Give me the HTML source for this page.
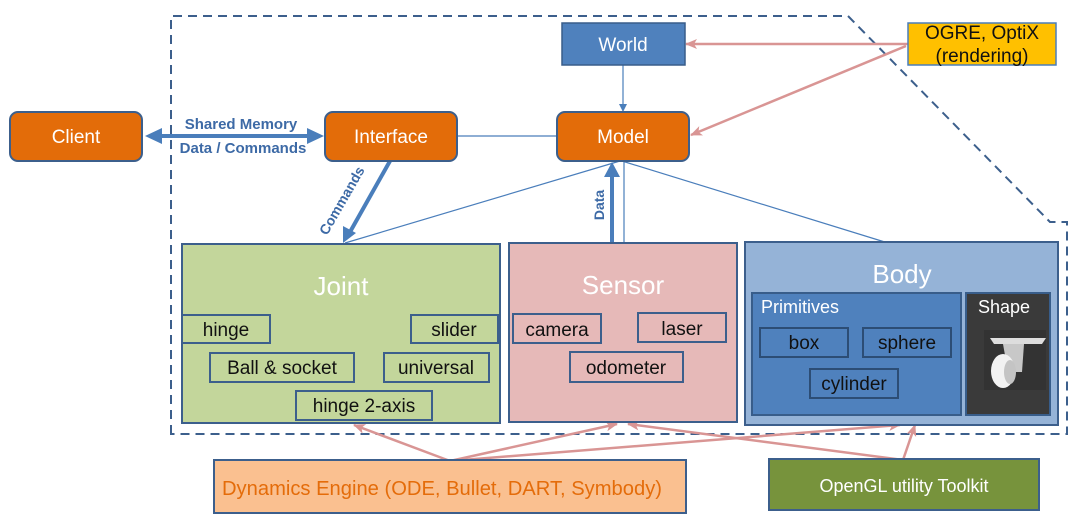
<!DOCTYPE html>
<html><head><meta charset="utf-8"><style>
html,body{margin:0;padding:0;background:#fff;}
svg{display:block;font-family:"Liberation Sans",Arial,sans-serif;}
</style></head><body>
<svg width="1080" height="521" viewBox="0 0 1080 521" xmlns="http://www.w3.org/2000/svg">
<defs>
<marker id="bl" markerWidth="8" markerHeight="8" refX="7" refY="4" orient="auto" markerUnits="userSpaceOnUse"><path d="M0,0 L8,4 L0,8 z" fill="#4a7ebb"/></marker>
<marker id="pk" markerWidth="12" markerHeight="10" refX="11" refY="5" orient="auto" markerUnits="userSpaceOnUse"><path d="M0,0 L12,5 L0,10 L3,5 z" fill="#d99594"/></marker>
</defs>
<path d="M171,434 L171,16 L848,16 L1050,222 L1067,222 L1067,434 Z" fill="none" stroke="#3c5f8c" stroke-width="2" stroke-dasharray="9,6"/>

<line x1="457" y1="136" x2="557" y2="136" stroke="#4a7ebb" stroke-width="1.2"/>
<line x1="345" y1="243" x2="620" y2="161" stroke="#4a7ebb" stroke-width="1.2"/>
<line x1="624" y1="161" x2="624" y2="243" stroke="#4a7ebb" stroke-width="1.2"/>
<line x1="622" y1="161" x2="888" y2="243" stroke="#4a7ebb" stroke-width="1.2"/>
<line x1="623" y1="65" x2="623" y2="111" stroke="#4a7ebb" stroke-width="1.2" marker-end="url(#bl)"/>

<line x1="160" y1="136" x2="307" y2="136" stroke="#4a7ebb" stroke-width="4"/>
<path d="M145,136 L162,128 L162,144 z" fill="#4a7ebb"/>
<path d="M324,136 L307,128 L307,144 z" fill="#4a7ebb"/>
<line x1="390" y1="161" x2="350" y2="232" stroke="#4a7ebb" stroke-width="4"/>
<path d="M343,243 L343,226 L356,233 z" fill="#4a7ebb"/>
<line x1="612" y1="243" x2="612" y2="176" stroke="#4a7ebb" stroke-width="4"/>
<path d="M612,162 L604,177 L620,177 z" fill="#4a7ebb"/>

<text x="241" y="129" font-size="15" font-weight="bold" fill="#3d6aa6" text-anchor="middle">Shared Memory</text>
<text x="243" y="153" font-size="15" font-weight="bold" fill="#3d6aa6" text-anchor="middle">Data / Commands</text>
<text transform="translate(346,203) rotate(-60)" font-size="14" font-weight="bold" fill="#3d6aa6" text-anchor="middle">Commands</text>
<text transform="translate(604,205) rotate(-90)" font-size="14" font-weight="bold" fill="#3d6aa6" text-anchor="middle">Data</text>

<line x1="908" y1="44" x2="686" y2="44" stroke="#d99594" stroke-width="2.5" marker-end="url(#pk)"/>
<line x1="906" y1="46" x2="691" y2="135" stroke="#d99594" stroke-width="2.5" marker-end="url(#pk)"/>
<line x1="450" y1="461" x2="354" y2="425" stroke="#d99594" stroke-width="2.5" marker-end="url(#pk)"/>
<line x1="450" y1="461" x2="617" y2="424" stroke="#d99594" stroke-width="2.5" marker-end="url(#pk)"/>
<line x1="450" y1="461" x2="900" y2="425" stroke="#d99594" stroke-width="2.5" marker-end="url(#pk)"/>
<line x1="903" y1="460" x2="628" y2="424" stroke="#d99594" stroke-width="2.5" marker-end="url(#pk)"/>
<line x1="903" y1="460" x2="915" y2="425" stroke="#d99594" stroke-width="2.5" marker-end="url(#pk)"/>

<rect x="10" y="112" width="132" height="49" rx="8" fill="#e36c09" stroke="#3c5f8c" stroke-width="2"/>
<text x="76" y="143" font-size="19" fill="#fff" text-anchor="middle">Client</text>
<rect x="325" y="112" width="132" height="49" rx="8" fill="#e36c09" stroke="#3c5f8c" stroke-width="2"/>
<text x="391" y="143" font-size="19" fill="#fff" text-anchor="middle">Interface</text>
<rect x="557" y="112" width="132" height="49" rx="8" fill="#e36c09" stroke="#3c5f8c" stroke-width="2"/>
<text x="623" y="143" font-size="19" fill="#fff" text-anchor="middle">Model</text>
<rect x="562" y="23" width="123" height="42" fill="#4f81bd" stroke="#385d8a" stroke-width="1.5"/>
<text x="623" y="51" font-size="19" fill="#fff" text-anchor="middle">World</text>
<rect x="908" y="23" width="148" height="42" fill="#ffc000" stroke="#4a7ebb" stroke-width="1.5"/>
<text x="982" y="39" font-size="19" fill="#111" text-anchor="middle">OGRE, OptiX</text>
<text x="982" y="62" font-size="19" fill="#111" text-anchor="middle">(rendering)</text>

<rect x="182" y="244" width="318" height="179" fill="#c3d69b" stroke="#3c5f8c" stroke-width="2"/>
<text x="341" y="295" font-size="26" fill="#fff" text-anchor="middle">Joint</text>
<g fill="none" stroke="#3c5f8c" stroke-width="2">
<rect x="182" y="315" width="88" height="28"/>
<rect x="411" y="315" width="87" height="28"/>
<rect x="210" y="353" width="144" height="29"/>
<rect x="384" y="353" width="105" height="29"/>
<rect x="296" y="391" width="136" height="29"/>
</g>
<g font-size="19" fill="#111" text-anchor="middle">
<text x="226" y="336">hinge</text>
<text x="454" y="336">slider</text>
<text x="282" y="374">Ball &amp; socket</text>
<text x="436" y="374">universal</text>
<text x="364" y="412">hinge 2-axis</text>
</g>

<rect x="509" y="243" width="228" height="179" fill="#e6b9b8" stroke="#3c5f8c" stroke-width="2"/>
<text x="623" y="294" font-size="26" fill="#fff" text-anchor="middle">Sensor</text>
<g fill="none" stroke="#3c5f8c" stroke-width="2">
<rect x="513" y="314" width="88" height="29"/>
<rect x="638" y="313" width="88" height="29"/>
<rect x="570" y="352" width="113" height="30"/>
</g>
<g font-size="19" fill="#111" text-anchor="middle">
<text x="557" y="336">camera</text>
<text x="682" y="335">laser</text>
<text x="626" y="374">odometer</text>
</g>

<rect x="745" y="242" width="313" height="183" fill="#95b3d7" stroke="#3c5f8c" stroke-width="2"/>
<text x="902" y="283" font-size="26" fill="#fff" text-anchor="middle">Body</text>
<rect x="752" y="293" width="209" height="122" fill="#4f81bd" stroke="#385d8a" stroke-width="2"/>
<text x="761" y="313" font-size="18" fill="#fff">Primitives</text>
<g fill="none" stroke="#2c4d75" stroke-width="2">
<rect x="760" y="328" width="88" height="29"/>
<rect x="863" y="328" width="88" height="29"/>
<rect x="810" y="369" width="88" height="29"/>
</g>
<g font-size="19" fill="#111" text-anchor="middle">
<text x="804" y="349">box</text>
<text x="907" y="349">sphere</text>
<text x="854" y="390">cylinder</text>
</g>
<rect x="966" y="293" width="84" height="122" fill="#3a3a3a" stroke="#385d8a" stroke-width="2"/>
<text x="1004" y="313" font-size="18" fill="#fff" text-anchor="middle">Shape</text>
<rect x="984" y="330" width="62" height="60" fill="#333"/>
<path d="M990,338 L1046,338 L1042,344 L994,344 z" fill="#ddd"/>
<path d="M1003,344 L1024,344 L1022,372 L1008,372 z" fill="#c8c8c8"/>
<ellipse cx="1003" cy="371" rx="12" ry="17" fill="#f2f2f2"/>
<ellipse cx="1010" cy="372" rx="6" ry="12" fill="#c4c4c4"/>

<rect x="214" y="460" width="472" height="53" fill="#fac090" stroke="#3c5f8c" stroke-width="2"/>
<text x="222" y="495" font-size="20" fill="#e46c0a" textLength="440" lengthAdjust="spacingAndGlyphs">Dynamics Engine (ODE, Bullet, DART, Symbody)</text>
<rect x="769" y="459" width="270" height="51" fill="#77933c" stroke="#3c5f8c" stroke-width="2"/>
<text x="904" y="492" font-size="18" fill="#fff" text-anchor="middle">OpenGL utility Toolkit</text>
</svg>
</body></html>
